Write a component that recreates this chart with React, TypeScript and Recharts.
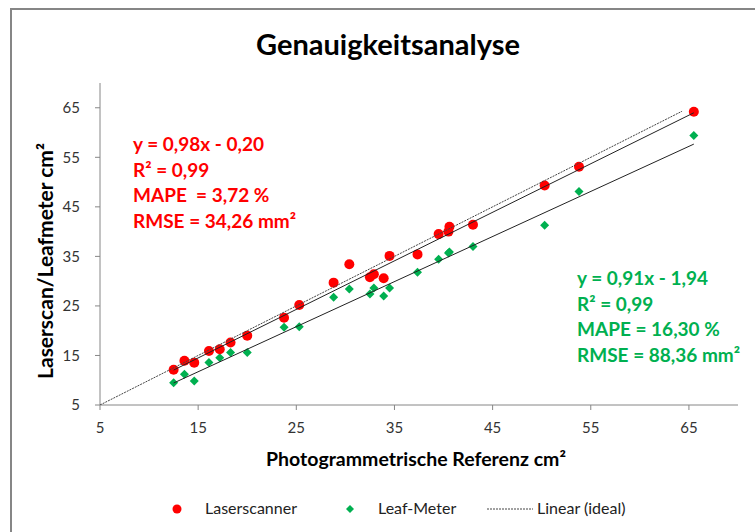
import { ScatterChart, Scatter, XAxis, YAxis, Label } from 'recharts';

// Referenzfläche (Photogrammetrie) je Blatt, cm²
const referenz = [12.5, 13.6, 14.6, 16.1, 17.2, 18.3, 20.0, 23.75, 25.3, 28.8, 30.4, 32.5, 32.9, 33.9, 34.5, 37.35, 39.5, 40.5, 40.6, 43.0, 50.3, 53.8, 65.5];
// Laserscanner-Messung, cm²
const laserscanner = [12.1, 13.95, 13.55, 15.9, 16.25, 17.6, 19.0, 22.6, 25.2, 29.7, 33.4, 30.8, 31.4, 30.6, 35.1, 35.4, 39.5, 40.0, 41.0, 41.4, 49.3, 53.1, 64.2];
// Leaf-Meter-Messung, cm²
const leafMeter = [9.5, 11.2, 9.85, 13.6, 14.55, 15.6, 15.6, 20.7, 20.8, 26.75, 28.4, 27.4, 28.6, 27.0, 28.6, 31.8, 34.4, 35.7, 35.9, 37.0, 41.3, 48.1, 59.4];

const xTicks = [5, 15, 25, 35, 45, 55, 65];
const yTicks = [5, 15, 25, 35, 45, 55, 65];

// Trendlinien aus den angezeigten Gleichungen
const laserFit = { m: 0.98, b: -0.2 };
const leafFit = { m: 0.91, b: -1.94 };
const idealEnd = 64.3;

const laserText = ['y = 0,98x - 0,20', 'R² = 0,99', 'MAPE  = 3,72 %', 'RMSE = 34,26 mm²'];
const leafText = ['y = 0,91x - 1,94', 'R² = 0,99', 'MAPE = 16,30 %', 'RMSE = 88,36 mm²'];

const RED = '#ff0000';
const GREEN = '#00b050';
const AXIS = '#868686';
const FONT = 'Lato, "Open Sans", sans-serif';

const xMin = Math.min(...referenz);
const xMax = Math.max(...referenz);

const laserData = referenz.map((x, i) => ({ x, y: laserscanner[i] }));
const leafData = referenz.map((x, i) => ({ x, y: leafMeter[i] }));
const laserLine = [xMin, xMax].map((x) => ({ x, y: laserFit.m * x + laserFit.b }));
const leafLine = [xMin, xMax].map((x) => ({ x, y: leafFit.m * x + leafFit.b }));
const idealLine = [5, idealEnd].map((x) => ({ x, y: x }));

const Dot = (p: any) => <circle cx={p.cx} cy={p.cy} r={5} fill={RED} />;
const Diamond = (p: any) => (
  <polygon
    points={`${p.cx},${p.cy - 4.5} ${p.cx + 4.5},${p.cy} ${p.cx},${p.cy + 4.5} ${p.cx - 4.5},${p.cy}`}
    fill={GREEN}
  />
);
const NoShape = () => <g />;

const textBlock = (lines: string[], color: string, left: number, top: number) => (
  <div style={{ position: 'absolute', left, top, color, fontWeight: 700, fontSize: 19, lineHeight: '25.7px', whiteSpace: 'pre' }}>
    {lines.map((l) => (
      <div key={l}>{l}</div>
    ))}
  </div>
);

export default function App() {
  return (
    <div style={{ position: 'absolute', left: 0, top: 0, width: 755, height: 532, overflow: 'hidden', background: '#fff', fontFamily: FONT }}>
      <div style={{ position: 'absolute', left: 10, top: 8, width: 900, height: 700, border: `2px solid ${AXIS}` }} />
      <div style={{ position: 'absolute', left: 0, top: 26, width: 776, textAlign: 'center', fontSize: 29, fontWeight: 700, color: '#000' }}>
        Genauigkeitsanalyse
      </div>

      <div style={{ position: 'absolute', left: 0, top: 0 }}>
        <ScatterChart width={755} height={532} margin={{ top: 83, right: 17, left: 10, bottom: 97 }}>
          <XAxis
            type="number"
            dataKey="x"
            domain={[5, 70]}
            ticks={xTicks}
            allowDataOverflow
            height={30}
            stroke={AXIS}
            tickSize={5}
            tickMargin={12}
            tick={{ fill: '#333', fontSize: 15, fontFamily: FONT }}
          >
            <Label
              content={({ viewBox }: any) => (
                <text x={viewBox.x + viewBox.width / 2 - 3} y={466} textAnchor="middle" fontFamily={FONT} fontWeight={700} fontSize={19.5} fill="#000">
                  Photogrammetrische Referenz cm²
                </text>
              )}
            />
          </XAxis>
          <YAxis
            type="number"
            dataKey="y"
            domain={[5, 70]}
            ticks={yTicks}
            allowDataOverflow
            width={90}
            stroke={AXIS}
            tickSize={5}
            tickMargin={15}
            tick={{ fill: '#333', fontSize: 15, fontFamily: FONT }}
          >
            <Label
              content={({ viewBox }: any) => {
                const cx = 53;
                const cy = viewBox.y + viewBox.height / 2 + 17;
                return (
                  <text x={cx} y={cy} transform={`rotate(-90 ${cx} ${cy})`} textAnchor="middle" fontFamily={FONT} fontWeight={700} fontSize={21} fill="#000">
                    Laserscan/Leafmeter cm²
                  </text>
                );
              }}
            />
          </YAxis>
          <Scatter data={leafData} shape={Diamond} isAnimationActive={false} />
          <Scatter data={laserData} shape={Dot} isAnimationActive={false} />
          <Scatter data={idealLine} shape={NoShape} line={{ stroke: '#444', strokeWidth: 1, strokeDasharray: '2 1' }} isAnimationActive={false} />
          <Scatter data={laserLine} shape={NoShape} line={{ stroke: '#222', strokeWidth: 1 }} isAnimationActive={false} />
          <Scatter data={leafLine} shape={NoShape} line={{ stroke: '#222', strokeWidth: 1 }} isAnimationActive={false} />
        </ScatterChart>
      </div>

      {textBlock(laserText, RED, 133, 131)}
      {textBlock(leafText, GREEN, 577, 265)}

      <div style={{ position: 'absolute', left: 0, top: 498, width: 755, height: 22, fontSize: 16, color: '#222' }}>
        <svg width={755} height={22} style={{ position: 'absolute', left: 0, top: 0 }}>
          <circle cx={177} cy={11} r={4.5} fill={RED} />
          <polygon points="350,7 354,11 350,15 346,11" fill={GREEN} />
          <line x1={487} y1={11} x2={533} y2={11} stroke="#444" strokeWidth={1} strokeDasharray="2 1" />
        </svg>
        <span style={{ position: 'absolute', left: 205, top: 0 }}>Laserscanner</span>
        <span style={{ position: 'absolute', left: 378, top: 0 }}>Leaf-Meter</span>
        <span style={{ position: 'absolute', left: 537, top: 0 }}>Linear (ideal)</span>
      </div>
    </div>
  );
}
